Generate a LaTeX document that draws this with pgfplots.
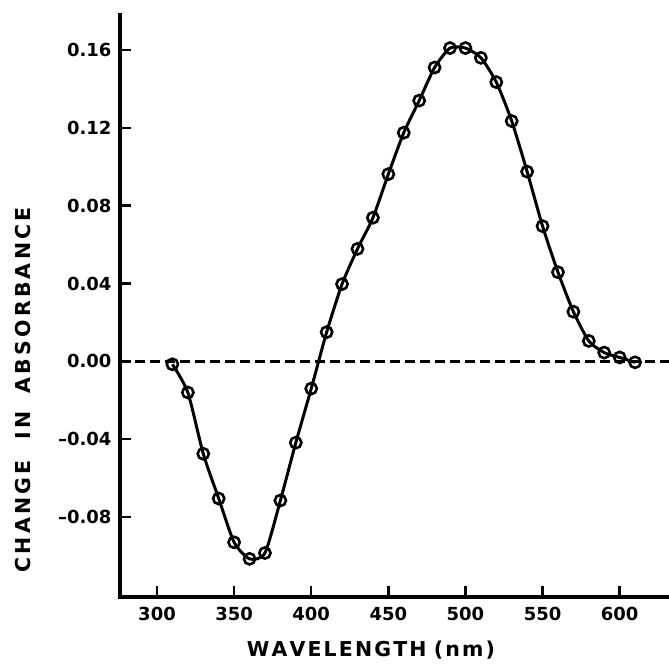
\documentclass[border=0pt]{standalone}
\usepackage{fontspec}
\usepackage{pgfplots}
\pgfplotsset{compat=1.18}
\newfontfamily\lab{DejaVu Sans}[UprightFont=* Bold]
\newcommand\tickfont{\fontsize{18}{18}\selectfont\lab}
\newcommand\labfont{\fontsize{20.5}{20.5}\selectfont\lab}
\begin{document}
\begin{tikzpicture}
\begin{axis}[
  name=ax,
  scale only axis,
  width=549pt, height=582pt,
  xmin=276, xmax=632,
  ymin=-0.1211, ymax=0.178,
  axis x line=bottom, axis y line=left,
  axis line style={-, line width=4pt, line cap=rect},
  tick align=inside,
  major tick length=11pt,
  tick style={line width=2.4pt, black},
  xtick={300,350,400,450,500,550,600},
  xticklabels={300,350,400,450,500,550,600},
  ytick={-0.08,-0.04,0,0.04,0.08,0.12,0.16},
  yticklabels={\textendash0.08,\textendash0.04,0.00,0.04,0.08,0.12,0.16},
  xticklabel style={font=\tickfont, yshift=-7pt},
  yticklabel style={font=\tickfont, xshift=-5pt},
  xlabel={\makebox[248pt][s]{W\hfill A\hfill V\hfill E\hfill L\hfill E\hfill N\hfill G\hfill T\hfill H\hspace{0.25em}\hfill(\hfill n\hfill m\hfill)}},
  xlabel style={font=\labfont, at={(axis description cs:0.457,0)}, anchor=center, yshift=-53pt},
  ylabel={\makebox[365pt][s]{C\hfill H\hfill A\hfill N\hfill G\hfill E\hspace{0.4em}\hfill\hfill\hfill\hfill I\hfill N\hspace{0.4em}\hfill\hfill\hfill A\hfill B\hfill S\hfill O\hfill R\hfill B\hfill A\hfill N\hfill C\hfill E}},
  ylabel style={font=\labfont, at={(axis description cs:-0.1767,0.356)}, rotate=0, anchor=center},
  clip=true,
]
\addplot[black, line width=2.3pt, dash pattern=on 10pt off 5pt] coordinates {(276,0) (632,0)};
\addplot[black, line width=3pt, smooth, tension=0.4, mark=o, mark size=5.6pt,
  mark options={solid, fill=white, line width=2.6pt}] coordinates {
(310,-0.0015) (320,-0.016) (330,-0.0475) (340,-0.0705) (350,-0.093)
(360,-0.1015) (370,-0.0985) (380,-0.0715) (390,-0.0418) (400,-0.014)
(410,0.015) (420,0.0397) (430,0.0578) (440,0.0738) (450,0.0962)
(460,0.1175) (470,0.134) (480,0.151) (490,0.161) (500,0.161)
(510,0.156) (520,0.1435) (530,0.1235) (540,0.0975) (550,0.0695)
(560,0.0458) (570,0.0255) (580,0.0105) (590,0.0045) (600,0.002)
(610,-0.0005)};
\end{axis}
\pgfresetboundingbox
\path[use as bounding box] ([xshift=-120pt,yshift=-68pt]ax.south west) rectangle ([yshift=15pt]ax.north east);
\end{tikzpicture}
\end{document}
